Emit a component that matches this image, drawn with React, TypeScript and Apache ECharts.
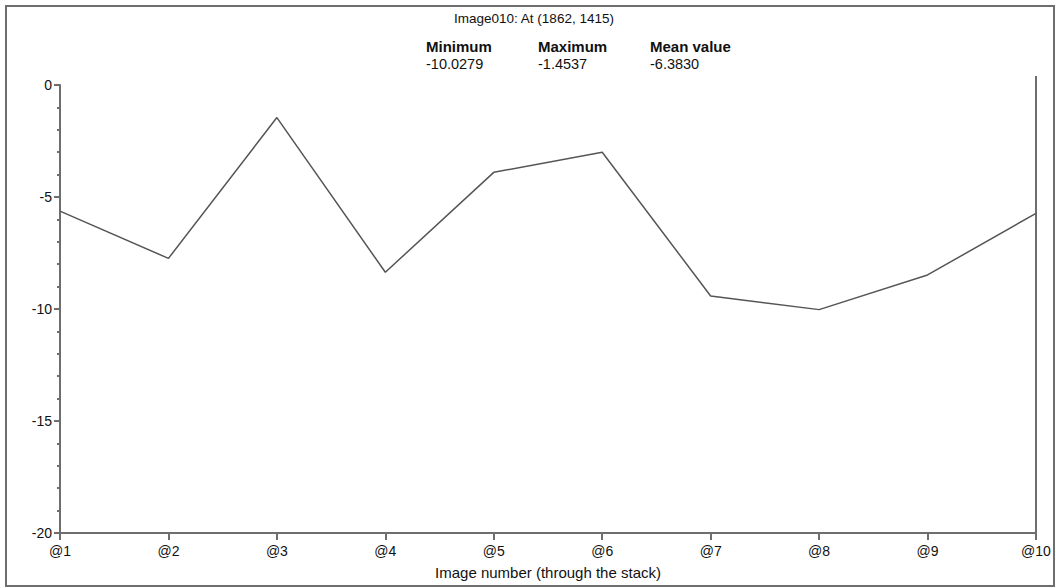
import React, { useEffect, useRef } from "react";
import * as echarts from "echarts";

const categories = ["@1", "@2", "@3", "@4", "@5", "@6", "@7", "@8", "@9", "@10"];
const values = [-5.63, -7.74, -1.4537, -8.36, -3.9, -3.0, -9.42, -10.0279, -8.48, -5.73];
const titleText = "Image010: At (1862, 1415)";
const statHeaders = ["Minimum", "Maximum", "Mean value"];
const statValues = ["-10.0279", "-1.4537", "-6.3830"];
const xAxisName = "Image number (through the stack)";

const FONT = "'Liberation Sans', Arial, sans-serif";

export default function App() {
  const ref = useRef<HTMLDivElement>(null);
  useEffect(() => {
    if (!ref.current) return;
    const chart = echarts.init(ref.current, undefined, { renderer: "svg" });
    const statX = [426, 538, 650];
    const graphics: any[] = [
      {
        type: "rect",
        shape: { x: 6, y: 6, width: 1048, height: 580 },
        style: { fill: "none", stroke: "#6e6e6e", lineWidth: 2 },
        silent: true,
      },
      {
        type: "line",
        shape: { x1: 1036, y1: 76, x2: 1036, y2: 540 },
        style: { stroke: "#6e6e6e", lineWidth: 2 },
        silent: true,
      },
      {
        type: "text",
        x: 534,
        y: 18,
        style: {
          text: titleText,
          font: `13.5px ${FONT}`,
          fill: "#111",
          textAlign: "center",
          textVerticalAlign: "middle",
        },
      },
    ];
    statHeaders.forEach((h, i) => {
      graphics.push({
        type: "text",
        x: statX[i],
        y: 46,
        style: {
          text: h,
          font: `bold 15px ${FONT}`,
          fill: "#111",
          textAlign: "left",
          textVerticalAlign: "middle",
        },
      });
      graphics.push({
        type: "text",
        x: statX[i],
        y: 64,
        style: {
          text: statValues[i],
          font: `14.5px ${FONT}`,
          fill: "#111",
          textAlign: "left",
          textVerticalAlign: "middle",
        },
      });
    });
    chart.setOption({
      animation: false,
      backgroundColor: "#fff",
      grid: { left: 60, right: 20, top: 85, bottom: 55, containLabel: false },
      xAxis: {
        type: "category",
        data: categories,
        boundaryGap: false,
        name: xAxisName,
        nameLocation: "middle",
        nameGap: 32,
        nameTextStyle: { fontFamily: FONT, fontSize: 15, color: "#111" },
        axisLine: { onZero: false, lineStyle: { color: "#6e6e6e", width: 2 } },
        axisTick: { show: true, length: 7, inside: false, lineStyle: { color: "#6e6e6e", width: 2 } },
        axisLabel: { fontFamily: FONT, fontSize: 14, color: "#111", margin: 11, interval: 0 },
        splitLine: { show: false },
      },
      yAxis: {
        type: "value",
        min: -20,
        max: 0,
        interval: 5,
        axisLine: { show: true, lineStyle: { color: "#6e6e6e", width: 2 } },
        axisTick: { show: true, length: 6, lineStyle: { color: "#6e6e6e", width: 2 } },
        minorTick: { show: true, splitNumber: 5, length: 3, lineStyle: { color: "#6e6e6e", width: 2 } },
        axisLabel: { fontFamily: FONT, fontSize: 14, color: "#111", margin: 8 },
        splitLine: { show: false },
      },
      series: [
        {
          type: "line",
          data: values,
          symbol: "none",
          lineStyle: { color: "#555", width: 1.5 },
        },
      ],
      graphic: graphics,
    });
    return () => chart.dispose();
  }, []);
  return (
    <div
      ref={ref}
      style={{ position: "absolute", left: 0, top: 0, width: 1056, height: 588 }}
    />
  );
}
